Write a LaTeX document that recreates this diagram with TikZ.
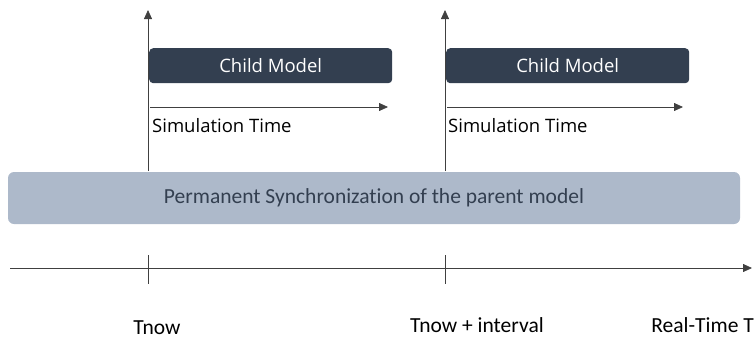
\documentclass[tikz,border=0pt]{standalone}
\usepackage{fontspec}
\setmainfont{Carlito}[Ligatures={NoCommon}]
\newfontfamily\uifont{Open Sans}
\usetikzlibrary{arrows.meta}
\definecolor{navy}{HTML}{333F50}
\definecolor{steel}{HTML}{ADB9CA}
\definecolor{axisgray}{HTML}{404040}
\begin{document}
\begin{tikzpicture}[x=1pt,y=-1pt,
  axis/.style={draw=axisgray,line width=0.8pt},
  arrowaxis/.style={axis,-{Triangle[length=9pt,width=8pt]}},
  childbox/.style={fill=navy,rounded corners=4pt,minimum width=243pt,minimum height=35pt,
    inner sep=0pt,text=white,font=\uifont\fontsize{18.5}{22}\selectfont},
  simlabel/.style={anchor=west,inner sep=0pt,text=black,font=\uifont\fontsize{18.5}{22}\selectfont},
  timelabel/.style={inner sep=0pt,text=black,font=\fontsize{21.5}{25}\selectfont},
  tick/.style={axis,line width=0.6pt}]
\useasboundingbox (0,0) rectangle (755,340);

% parent model band
\node[fill=steel,rounded corners=6pt,minimum width=732pt,minimum height=52pt,inner sep=0pt,
  text=navy,font=\fontsize{21.5}{25}\selectfont] (sync) at (374,198) {Permanent Synchronization of the parent model};

% first child model
\coordinate (b1) at (148,171);
\coordinate (t1) at (148,10);
\draw[arrowaxis] (b1) -- (t1);
\node[childbox,anchor=north west] (c1) at (149,48) {Child Model};
\coordinate (s1a) at (150,107);
\coordinate (s1b) at (388,107);
\draw[arrowaxis] (s1a) -- (s1b);
\node[simlabel] (l1) at (152,126) {Simulation Time};

% second child model
\coordinate (b2) at (445,171);
\coordinate (t2) at (445,10);
\draw[arrowaxis] (b2) -- (t2);
\node[childbox,anchor=north west] (c2) at (446,48) {Child Model};
\coordinate (s2a) at (447,107);
\coordinate (s2b) at (683,107);
\draw[arrowaxis] (s2a) -- (s2b);
\node[simlabel] (l2) at (448,126) {Simulation Time};

% real-time axis
\coordinate (ra) at (10,268);
\coordinate (rb) at (752,268);
\draw[arrowaxis] (ra) -- (rb);
\coordinate (k1a) at (148,255);
\coordinate (k1b) at (148,284);
\coordinate (k2a) at (445,255);
\coordinate (k2b) at (445,284);
\draw[tick] (k1a) -- (k1b);
\draw[tick] (k2a) -- (k2b);

\node[timelabel] (tn) at (157,328) {Tnow};
\node[timelabel] (ti) at (477,325) {Tnow + interval};
\node[timelabel,anchor=east] (rt) at (754,325) {Real-Time T};
\end{tikzpicture}
\end{document}
